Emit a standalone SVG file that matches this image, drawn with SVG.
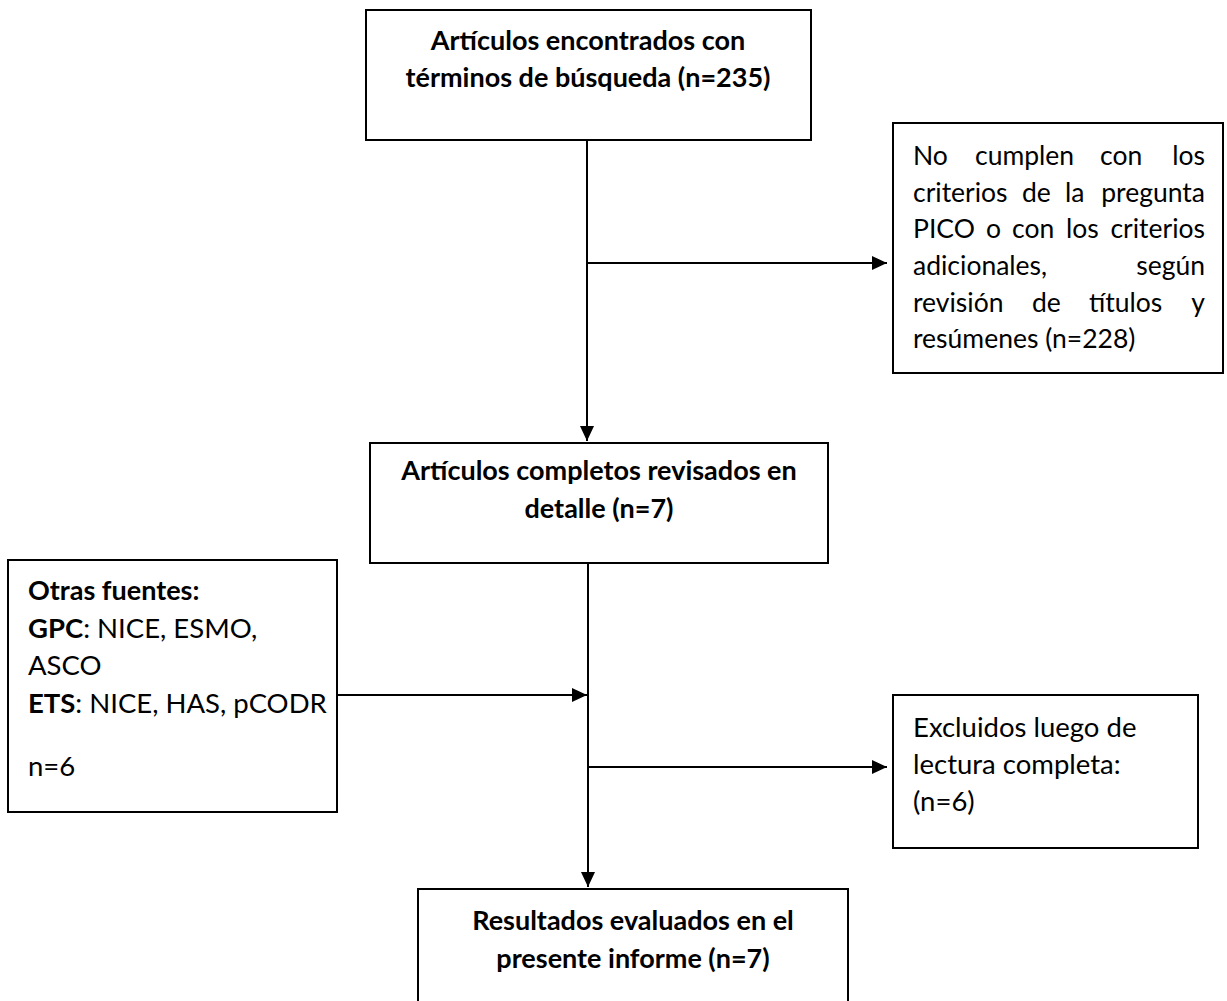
<svg xmlns="http://www.w3.org/2000/svg" width="1227" height="1001" viewBox="0 0 1227 1001">
<defs>
<marker id="ah" markerWidth="8" markerHeight="8" refX="7.5" refY="4" orient="auto" markerUnits="strokeWidth">
<path d="M0,0.5 L7.5,4 L0,7.5 Z" fill="#000"/>
</marker>
<style>
.box{fill:#fff;stroke:#000;stroke-width:2}
.ln{fill:none;stroke:#000;stroke-width:2}
.b{font-family:Lato,"Liberation Sans",sans-serif;font-weight:bold;font-size:27px;fill:#000}
.r{font-family:Lato,"Liberation Sans",sans-serif;font-size:27.5px;fill:#000}
.j{font-size:26.5px}
.c{text-anchor:middle}
.e{text-anchor:end}
</style>
</defs>
<rect width="1227" height="1001" fill="#fff"/>
<g id="connectors">
<line class="ln" x1="587" y1="140" x2="587" y2="441" marker-end="url(#ah)"/>
<line class="ln" x1="587" y1="263" x2="887" y2="263" marker-end="url(#ah)"/>
<line class="ln" x1="588" y1="563" x2="588" y2="887" marker-end="url(#ah)"/>
<line class="ln" x1="337" y1="695" x2="587" y2="695" marker-end="url(#ah)"/>
<line class="ln" x1="588" y1="767" x2="887" y2="767" marker-end="url(#ah)"/>
</g>
<g id="n1">
<rect class="box" x="366" y="10" width="445" height="130"/>
<text class="b c" x="588" y="50">Artículos encontrados con</text>
<text class="b c" x="588" y="87">términos de búsqueda (n=235)</text>
</g>
<g id="n2">
<rect class="box" x="893" y="123" width="330" height="250"/>
<text class="r j" y="165"><tspan x="913">No</tspan><tspan x="975">cumplen</tspan><tspan x="1100">con</tspan></text>
<text class="r j e" x="1205" y="165">los</text>
<text class="r j" y="202"><tspan x="913">criterios</tspan><tspan x="1022">de</tspan><tspan x="1065">la</tspan></text>
<text class="r j e" x="1205" y="202">pregunta</text>
<text class="r j" y="238"><tspan x="913">PICO</tspan><tspan x="986">o</tspan><tspan x="1012">con</tspan><tspan x="1066">los</tspan></text>
<text class="r j e" x="1205" y="238">criterios</text>
<text class="r j" x="913" y="275">adicionales,</text>
<text class="r j e" x="1205" y="275">según</text>
<text class="r j" y="312"><tspan x="913">revisión</tspan><tspan x="1032">de</tspan><tspan x="1089">títulos</tspan></text>
<text class="r j e" x="1205" y="312">y</text>
<text class="r j" x="913" y="348">resúmenes (n=228)</text>
</g>
<g id="n3">
<rect class="box" x="370" y="443" width="458" height="120"/>
<text class="b c" x="599" y="480">Artículos completos revisados en</text>
<text class="b c" x="599" y="518">detalle (n=7)</text>
</g>
<g id="n4">
<rect class="box" x="8" y="560" width="329" height="252"/>
<text class="b" x="28" y="600">Otras fuentes:</text>
<text class="r" x="28" y="638"><tspan font-weight="bold">GPC</tspan>:  NICE, ESMO,</text>
<text class="r" x="28" y="675">ASCO</text>
<text class="r" x="28" y="713"><tspan font-weight="bold">ETS</tspan>: NICE, HAS, pCODR</text>
<text class="r" x="28" y="776">n=6</text>
</g>
<g id="n5">
<rect class="box" x="893" y="695" width="305" height="153"/>
<text class="r" x="913" y="737">Excluidos luego de</text>
<text class="r" x="913" y="774">lectura completa:</text>
<text class="r" x="913" y="811">(n=6)</text>
</g>
<g id="n6">
<rect class="box" x="418" y="889" width="430" height="130"/>
<text class="b c" x="633" y="930">Resultados evaluados en el</text>
<text class="b c" x="633" y="968">presente informe (n=7)</text>
</g>
</svg>
